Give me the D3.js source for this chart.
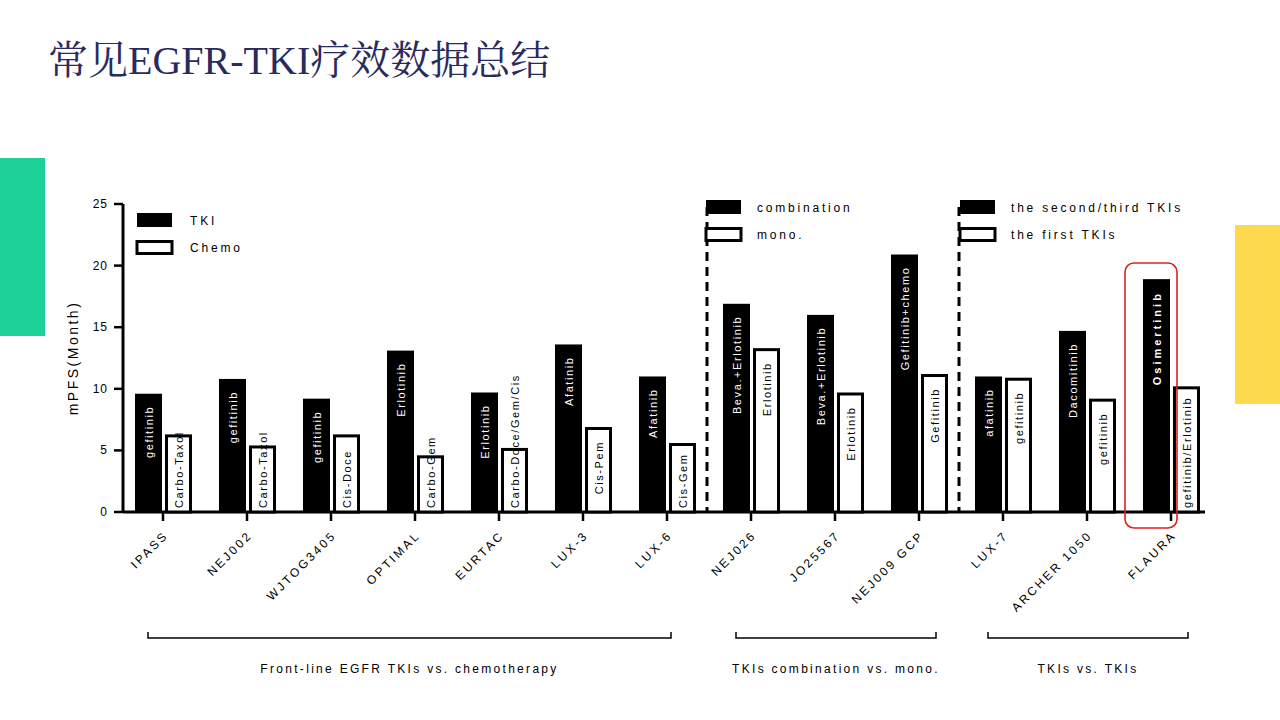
<!DOCTYPE html>
<html><head><meta charset="utf-8">
<script src="https://cdn.jsdelivr.net/npm/d3@7"></script>
<style>body{margin:0;background:#fff}svg{display:block;font-family:Arial,"Liberation Sans",sans-serif}</style>
</head><body><svg id="c" width="1280" height="720"></svg>
<script>
const categories=["IPASS","NEJ002","WJTOG3405","OPTIMAL","EURTAC","LUX-3","LUX-6","NEJ026","JO25567","NEJ009 GCP","LUX-7","ARCHER 1050","FLAURA"];
const blackValues=[9.6,10.8,9.2,13.1,9.7,13.6,11.0,16.9,16.0,20.9,11.0,14.7,18.9];
const whiteValues=[6.3,5.4,6.3,4.6,5.2,6.9,5.6,13.3,9.7,11.2,10.9,9.2,10.2];
const blackLabels=["gefitinib","gefitinib","gefitinib","Erlotinib","Erlotinib","Afatinib","Afatinib","Beva.+Erlotinib","Beva.+Erlotinib","Gefitinib+chemo","afatinib","Dacomitinib","Osimertinib"];
const whiteLabels=["Carbo-Taxol","Carbo-Taxol","Cis-Doce","Carbo-Gem","Carbo-Doce/Gem/Cis","Cis-Pem","Cis-Gem","Erlotinib","Erlotinib","Gefitinib","gefitinib","gefitinib","gefitinib/Erlotinib"];
const yTicks=[0,5,10,15,20,25];
const groups=[{label:"Front-line EGFR TKIs vs. chemotherapy",from:0,to:6},{label:"TKIs combination  vs. mono.",from:7,to:9},{label:"TKIs vs. TKIs",from:10,to:12}];
const legends=[{at:0,items:["TKI","Chemo"]},{at:7,items:["combination","mono."]},{at:10,items:["the second/third TKIs","the first TKIs"]}];

const svg=d3.select("#c");
svg.append("rect").attr("x",0).attr("y",158).attr("width",45).attr("height",178).attr("fill","#1dd096");
svg.append("rect").attr("x",1235).attr("y",225).attr("width",45).attr("height",179).attr("fill","#fdd94e");
svg.append("text").attr("x",48).attr("y",74).attr("fill","#2a2a5e").attr("font-size",40)
  .attr("font-family","'Liberation Serif','Noto Serif CJK SC','Noto Sans CJK SC',serif").text("常见EGFR-TKI疗效数据总结");

const y=d3.scaleLinear().domain([0,25]).range([512,204]);
const x=d3.scalePoint().domain(categories).range([163,1171]);
const bw=27, ls="1.6px";
const g=svg.append("g");
g.append("line").attr("x1",123).attr("x2",1205).attr("y1",512).attr("y2",512).attr("stroke","#000").attr("stroke-width",3);
g.append("line").attr("x1",123).attr("x2",123).attr("y1",204).attr("y2",513).attr("stroke","#000").attr("stroke-width",3);
yTicks.forEach(t=>{
  g.append("line").attr("x1",114).attr("x2",123).attr("y1",y(t)).attr("y2",y(t)).attr("stroke","#000").attr("stroke-width",2.5);
  g.append("text").attr("x",108).attr("y",y(t)+4).attr("text-anchor","end").attr("font-size",12).attr("letter-spacing","1px").text(t);
});
svg.append("text").attr("transform","translate(78,358) rotate(-90)").attr("text-anchor","middle").attr("font-size",14).attr("letter-spacing","2.5px").text("mPFS(Month)");

categories.forEach((c,i)=>{
  const cx=x(c);
  g.append("line").attr("x1",cx).attr("x2",cx).attr("y1",512).attr("y2",521).attr("stroke","#000").attr("stroke-width",2.5);
  g.append("rect").attr("x",cx-bw-1).attr("y",y(blackValues[i])).attr("width",bw).attr("height",512-y(blackValues[i])).attr("fill","#000");
  g.append("rect").attr("x",cx+3.5).attr("y",y(whiteValues[i])+1.5).attr("width",bw-3).attr("height",512-y(whiteValues[i])-1.5).attr("fill","#fff").attr("stroke","#000").attr("stroke-width",3);
  const bx=cx-bw/2-1, wx=cx+3.5+(bw-3)/2;
  const bold = c==="FLAURA";
  g.append("text").attr("transform",`translate(${bx+4},${y(blackValues[i])+12}) rotate(-90)`).attr("text-anchor","end")
    .attr("font-size",11).attr("letter-spacing",bold?"3px":ls).attr("font-weight",bold?"bold":"normal").attr("fill","#fff").text(blackLabels[i]);
  const len=whiteLabels[i].length*8.2, h=512-y(whiteValues[i]);
  const wt=g.append("text").attr("font-size",11).attr("letter-spacing",ls).attr("fill","#000").text(whiteLabels[i]);
  if(len>h-20) wt.attr("transform",`translate(${wx+4},508) rotate(-90)`).attr("text-anchor","start");
  else wt.attr("transform",`translate(${wx+4},${y(whiteValues[i])+14}) rotate(-90)`).attr("text-anchor","end");
  svg.append("text").attr("transform",`translate(${cx+6},${536}) rotate(-45)`).attr("text-anchor","end").attr("font-size",12).attr("letter-spacing","2.5px").text(c);
});
// dashed separators
[6.5,9.5].forEach(v=>{
  const px=(x(categories[Math.floor(v)])+x(categories[Math.ceil(v)]))/2-2;
  svg.append("line").attr("x1",px).attr("x2",px).attr("y1",207).attr("y2",512).attr("stroke","#000").attr("stroke-width",3).attr("stroke-dasharray","9,6");
});
// legends
legends.forEach((L,k)=>{
  const lx = k===0?137:x(categories[L.at])-45+ (k===2?2:0);
  const ly = k===0?213:200;
  const gap = k===0?27:27;
  L.items.forEach((t,j)=>{
    const r=svg.append("rect").attr("x",lx).attr("y",ly+j*gap+(j?1.5:0)).attr("width",k===0?35:35).attr("height",j?12:14);
    if(j) r.attr("fill","#fff").attr("stroke","#000").attr("stroke-width",3); else r.attr("fill","#000");
    svg.append("text").attr("x",lx+(k===0?53:51)).attr("y",ly+j*gap+12).attr("font-size",12).attr("letter-spacing","2.8px").text(t);
  });
});
// red highlight
svg.append("rect").attr("x",x("FLAURA")-46).attr("y",263).attr("width",52).attr("height",265).attr("rx",9).attr("fill","none").attr("stroke","#e02020").attr("stroke-width",1.6);
// brackets
groups.forEach(gr=>{
  const x1=x(categories[gr.from])-15, x2=x(categories[gr.to])+(gr.from===0?4:17);
  svg.append("path").attr("d",`M${x1},632V638H${x2}V632`).attr("fill","none").attr("stroke","#000").attr("stroke-width",1.5);
  svg.append("text").attr("x",(x1+x2)/2).attr("y",673).attr("text-anchor","middle").attr("font-size",12).attr("letter-spacing","2.3px").text(gr.label);
});
</script></body></html>
